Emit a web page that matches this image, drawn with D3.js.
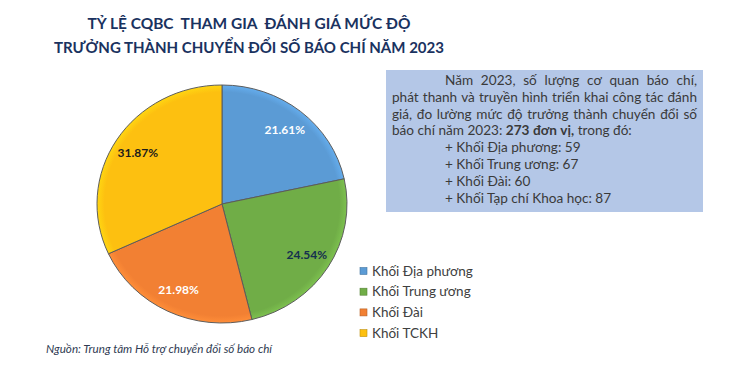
<!DOCTYPE html>
<html><head><meta charset="utf-8">
<script src="https://cdn.jsdelivr.net/npm/d3@7"></script>
<style>
html,body{margin:0;padding:0;background:#fff;}
svg{display:block;}
</style></head>
<body>
<svg id="chart" width="730" height="378"></svg>
<script>
// ---- data ----
const categories = ["Khối Địa phương", "Khối Trung ương", "Khối Đài", "Khối TCKH"];
const counts = [59, 67, 60, 87];
const percentLabels = ["21.61%", "24.54%", "21.98%", "31.87%"];
const titleLines = ["TỶ LỆ CQBC  THAM GIA  ĐÁNH GIÁ MỨC ĐỘ", "TRƯỞNG THÀNH CHUYỂN ĐỔI SỐ BÁO CHÍ NĂM 2023"];
const sourceText = "Nguồn: Trung tâm Hỗ trợ chuyển đổi số báo chí";
const noteLines = [
  "Năm 2023, số lượng cơ quan báo chí,",
  "phát thanh và truyền hình triển khai công tác đánh",
  "giá, đo lường mức độ trưởng thành chuyển đổi số",
  "báo chí năm 2023: **273 đơn vị,** trong đó:"
];
const noteItems = ["+ Khối Địa phương: 59", "+ Khối Trung ương: 67", "+ Khối Đài: 60", "+ Khối Tạp chí Khoa học: 87"];

// ---- styles ----
const sliceColors = ["#5b9bd5", "#70ad47", "#f28033", "#fdc010"];
const labelColors = ["#ffffff", "#14304f", "#ffffff", "#1c1c1c"];
const FONT = "Lato, 'Open Sans', 'Noto Sans', sans-serif";

const svg = d3.select("#chart");

// ---- title ----
const titleWidths = [323, 390];
titleLines.forEach((t, i) => {
  svg.append("text")
    .attr("x", 249).attr("y", 29 + i * 24)
    .attr("text-anchor", "middle")
    .attr("font-family", FONT).attr("font-weight", 700)
    .attr("font-size", 16).attr("fill", "#1a3260")
    .style("white-space", "pre")
    .attr("textLength", titleWidths[i]).attr("lengthAdjust", "spacingAndGlyphs")
    .text(t);
});

// ---- pie ----
const cx = 222, cy = 204, rx = 125, ry = 119;
const pie = d3.pie().sort(null).value(d => d)(counts);
const arc = d3.arc().innerRadius(0).outerRadius(rx);
const labelArc = d3.arc().innerRadius(100).outerRadius(100);

const defs = svg.append("defs");
sliceColors.forEach((c, i) => {
  const g = defs.append("radialGradient").attr("id", "grad" + i)
    .attr("gradientUnits", "userSpaceOnUse").attr("cx", 0).attr("cy", 0).attr("r", rx);
  g.append("stop").attr("offset", "0%").attr("stop-color", c);
  g.append("stop").attr("offset", "94%").attr("stop-color", c);
  g.append("stop").attr("offset", "100%").attr("stop-color", d3.color(c).brighter(0.3));
});

const pg = svg.append("g").attr("transform", `translate(${cx},${cy}) scale(1,${ry / rx})`);
pg.selectAll("path.slice").data(pie).join("path")
  .attr("class", "slice")
  .attr("d", arc)
  .attr("fill", (d, i) => `url(#grad${i})`)
  .attr("stroke", "#5a5a5a").attr("stroke-width", 1);

svg.append("g").attr("transform", `translate(${cx},${cy})`)
  .selectAll("text").data(pie).join("text")
  .attr("x", d => labelArc.centroid(d)[0])
  .attr("y", d => labelArc.centroid(d)[1] * ry / rx)
  .attr("text-anchor", "middle").attr("dy", "0.35em")
  .attr("font-family", FONT).attr("font-weight", 700).attr("font-size", 12)
  .attr("fill", (d, i) => labelColors[i])
  .text((d, i) => percentLabels[i]);

// ---- legend ----
const legend = svg.append("g").attr("transform", "translate(360,271)");
categories.forEach((c, i) => {
  const y = i * 20.7;
  legend.append("rect").attr("x", 0).attr("y", y - 3.5).attr("width", 7).attr("height", 7)
    .attr("fill", sliceColors[i]).attr("stroke", d3.color(sliceColors[i]).darker(0.8)).attr("stroke-width", 0.6);
  legend.append("text").attr("x", 12).attr("y", y).attr("dy", "0.35em")
    .attr("font-family", FONT).attr("font-size", 13.5).attr("fill", "#404040")
    .text(c);
});

// ---- note box ----
const box = { x: 386, y: 70, w: 317, h: 142 };
svg.append("rect").attr("x", box.x).attr("y", box.y).attr("width", box.w).attr("height", box.h)
  .attr("fill", "#b4c7e7");

const noteG = svg.append("g").attr("font-family", FONT).attr("font-size", 13.6).attr("fill", "#3a3a3a");
const lineH = 16.8;
const leftX = 392, rightX = 697, indentX = 445;
const firstBase = 85;

const meas = noteG.append("text").attr("visibility", "hidden");
function wlen(s, bold) {
  meas.attr("font-weight", bold ? 700 : 400).text(s);
  return meas.node().getComputedTextLength();
}
const spaceW = wlen("a a") - wlen("aa");

noteLines.forEach((line, li) => {
  const y = firstBase + li * lineH;
  const parts = line.split("**");
  const toks = [];
  parts.forEach((p, pi) => p.split(" ").filter(w => w).forEach(w => toks.push({ w, b: pi % 2 === 1 })));
  toks.forEach(t => t.len = wlen(t.w, t.b));
  const x0 = li === 0 ? indentX : leftX;
  const last = li === noteLines.length - 1;
  const total = toks.reduce((s, t) => s + t.len, 0);
  const gap = last ? spaceW : (rightX - x0 - total) / (toks.length - 1);
  let x = x0;
  toks.forEach(t => {
    noteG.append("text").attr("x", x).attr("y", y)
      .attr("font-weight", t.b ? 700 : 400).text(t.w);
    x += t.len + gap;
  });
});
meas.remove();

noteItems.forEach((t, i) => {
  noteG.append("text").attr("x", indentX).attr("y", firstBase + (noteLines.length + i) * lineH).text(t);
});

// ---- source ----
svg.append("text").attr("x", 46).attr("y", 353)
  .attr("font-family", FONT).attr("font-style", "italic").attr("font-size", 10.5)
  .attr("fill", "#2f3b52")
  .attr("textLength", 226).attr("lengthAdjust", "spacingAndGlyphs")
  .text(sourceText);
</script>
</body></html>
